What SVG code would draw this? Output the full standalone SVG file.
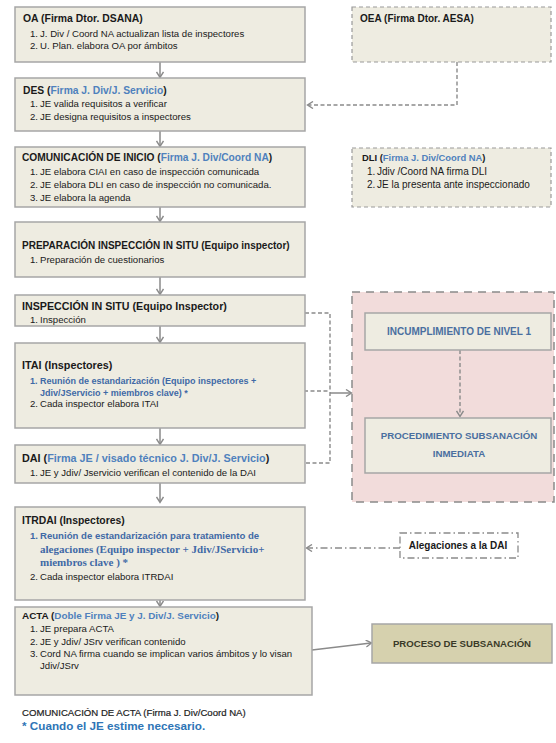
<svg xmlns="http://www.w3.org/2000/svg" width="556" height="743" viewBox="0 0 556 743">
<defs>
<marker id="ah" markerWidth="8" markerHeight="8" refX="6" refY="4" orient="auto" markerUnits="userSpaceOnUse">
<path d="M1,0.5 L6.5,4 L1,7.5" fill="none" stroke="#8a8a8a" stroke-width="1.4"/>
</marker>
<style>
text{font-family:"Liberation Sans",Arial,sans-serif;fill:#1a1a1a}
.box{fill:#eeece1;stroke:#a6a6a6;stroke-width:1.5}
.dbox{fill:#eeece1;stroke:#9a9a9a;stroke-width:1.2;stroke-dasharray:4,3}
.t{font-size:10.4px;font-weight:bold}
.i{font-size:9.6px}
.bl{fill:#4f81bd}
.bb{fill:#3f69a6;font-weight:bold;font-size:9px}
.c{text-anchor:middle}
.hl{fill:#4a6fa0}
.arr{fill:none;stroke:#8a8a8a;stroke-width:1.5}
.dash{fill:none;stroke:#8a8a8a;stroke-width:1.4;stroke-dasharray:4,2.5}
</style>
</defs>
<rect width="556" height="743" fill="#ffffff"/>

<g id="pink-area">
<rect x="352" y="292" width="202" height="210" fill="#f2dcdb" stroke="#8a8a8a" stroke-width="1.5" stroke-dasharray="8,6"/>
</g>

<g id="connectors">
<line class="arr" x1="160" y1="62" x2="160" y2="77" marker-end="url(#ah)"/>
<line class="arr" x1="160" y1="131" x2="160" y2="146" marker-end="url(#ah)"/>
<line class="arr" x1="160" y1="207" x2="160" y2="221" marker-end="url(#ah)"/>
<line class="arr" x1="160" y1="277" x2="160" y2="294" marker-end="url(#ah)"/>
<line class="arr" x1="160" y1="326" x2="160" y2="342" marker-end="url(#ah)"/>
<line class="arr" x1="160" y1="428" x2="160" y2="444" marker-end="url(#ah)"/>
<line class="arr" x1="160" y1="483" x2="160" y2="502" marker-end="url(#ah)"/>
<line class="arr" x1="160" y1="600" x2="160" y2="606" marker-end="url(#ah)"/>
<polyline class="dash" points="457,62 457,105 308,105" marker-end="url(#ah)"/>
<polyline class="dash" points="305,313 330,313 330,463 305,463"/>
<line class="dash" x1="304" y1="391" x2="330" y2="391"/>
<line class="arr" x1="330" y1="393" x2="351" y2="393" marker-end="url(#ah)"/>
<line class="dash" x1="460" y1="350" x2="460" y2="416" marker-end="url(#ah)"/>
<line fill="none" stroke="#8a8a8a" stroke-width="1.4" stroke-dasharray="7,3,1.5,3" x1="400" y1="548" x2="307" y2="548" marker-end="url(#ah)"/>
<line class="arr" x1="312" y1="650" x2="371" y2="643" marker-end="url(#ah)"/>
</g>

<g id="oa">
<rect class="box" x="15" y="7" width="290" height="55"/>
<text class="t" x="23" y="22">OA (Firma Dtor. DSANA)</text>
<text class="i" x="30" y="37">1.</text><text class="i" x="40" y="37">J. Div / Coord NA actualizan lista de inspectores</text>
<text class="i" x="30" y="49">2.</text><text class="i" x="40" y="49">U. Plan. elabora OA por ámbitos</text>
</g>

<g id="oea">
<rect class="dbox" x="352" y="7" width="199" height="55"/>
<text class="t" x="360" y="22" style="font-size:10px">OEA (Firma Dtor. AESA)</text>
</g>

<g id="des">
<rect class="box" x="15" y="78" width="290" height="53"/>
<text class="t" x="23" y="94" style="font-size:10.3px">DES (<tspan class="bl">Firma J. Div/J. Servicio</tspan>)</text>
<text class="i" x="30" y="107">1.</text><text class="i" x="40" y="107">JE valida requisitos a verificar</text>
<text class="i" x="30" y="120">2.</text><text class="i" x="40" y="120">JE designa requisitos a inspectores</text>
</g>

<g id="comunicacion-inicio">
<rect class="box" x="15" y="147" width="290" height="60"/>
<text class="t" x="22" y="161" style="font-size:10.2px">COMUNICACIÓN DE INICIO (<tspan class="bl">Firma J. Div/Coord NA</tspan>)</text>
<text class="i" x="30" y="175">1.</text><text class="i" x="40" y="175">JE elabora CIAI en caso de inspección comunicada</text>
<text class="i" x="30" y="188">2.</text><text class="i" x="40" y="188">JE elabora DLI en caso de inspección no comunicada.</text>
<text class="i" x="30" y="201">3.</text><text class="i" x="40" y="201">JE elabora la agenda</text>
</g>

<g id="dli">
<rect class="dbox" x="352" y="148" width="199" height="59"/>
<text class="t" x="362" y="161" style="font-size:9.4px">DLI (<tspan class="bl">Firma J. Div/Coord NA</tspan>)</text>
<text class="i" x="367" y="175" style="font-size:10px">1.</text><text class="i" x="377" y="175" style="font-size:10px">Jdiv /Coord NA firma DLI</text>
<text class="i" x="367" y="188" style="font-size:10px">2.</text><text class="i" x="377" y="188" style="font-size:10px">JE la presenta ante inspeccionado</text>
</g>

<g id="preparacion">
<rect class="box" x="15" y="222" width="290" height="55"/>
<text class="t" x="22" y="249" style="font-size:10px">PREPARACIÓN INSPECCIÓN IN SITU (Equipo inspector)</text>
<text class="i" x="30" y="263">1.</text><text class="i" x="40" y="263">Preparación de cuestionarios</text>
</g>

<g id="inspeccion">
<rect class="box" x="15" y="295" width="290" height="31"/>
<text class="t" x="22" y="310" style="font-size:10.7px">INSPECCIÓN IN SITU (Equipo Inspector)</text>
<text class="i" x="30" y="323">1.</text><text class="i" x="40" y="323">Inspección</text>
</g>

<g id="itai">
<rect class="box" x="15" y="343" width="290" height="85"/>
<text class="t" x="22" y="369" style="font-size:10.8px">ITAI (Inspectores)</text>
<text class="i bb" x="30" y="384">1.</text><text class="i bb" x="40" y="384">Reunión de estandarización (Equipo inspectores +</text>
<text class="i bb" x="40" y="396">Jdiv/JServicio + miembros clave) *</text>
<text class="i" x="30" y="407">2.</text><text class="i" x="40" y="407">Cada inspector elabora ITAI</text>
</g>

<g id="dai">
<rect class="box" x="15" y="445" width="290" height="38"/>
<text class="t" x="22" y="462" style="font-size:10.8px">DAI (<tspan class="bl">Firma JE / visado técnico J. Div/J. Servicio</tspan>)</text>
<text class="i" x="30" y="476">1.</text><text class="i" x="40" y="476">JE y Jdiv/ Jservicio verifican el contenido de la DAI</text>
</g>

<g id="itrdai">
<rect class="box" x="15" y="507" width="290" height="93"/>
<text class="t" x="22" y="524">ITRDAI (Inspectores)</text>
<text class="i bb" x="30" y="539" style="font-size:9.6px">1.</text><text class="i bb" x="40" y="539" style="font-size:9.6px">Reunión de estandarización para tratamiento de</text>
<text class="i bb" x="40" y="553" style="font-family:'Liberation Serif',serif;font-size:11px">alegaciones (Equipo inspector + Jdiv/JServicio+</text>
<text class="i bb" x="40" y="566" style="font-family:'Liberation Serif',serif;font-size:11px">miembros clave ) *</text>
<text class="i" x="30" y="580">2.</text><text class="i" x="40" y="580">Cada inspector elabora ITRDAI</text>
</g>

<g id="acta">
<rect class="box" x="15" y="607" width="297" height="88"/>
<text class="t" x="22" y="619" style="font-size:9.9px">ACTA (<tspan class="bl">Doble Firma JE y J. Div/J. Servicio</tspan>)</text>
<text class="i" x="30" y="632">1.</text><text class="i" x="40" y="632">JE prepara ACTA</text>
<text class="i" x="30" y="645">2.</text><text class="i" x="40" y="645">JE y Jdiv/ JSrv verifican contenido</text>
<text class="i" x="30" y="657">3.</text><text class="i" x="40" y="657">Cord NA firma cuando se implican varios ámbitos y lo visan</text>
<text class="i" x="40" y="669">Jdiv/JSrv</text>
</g>

<g id="incumplimiento">
<rect class="box" x="365" y="313" width="186" height="37"/>
<text class="t c hl" x="459" y="335" style="font-size:10px">INCUMPLIMIENTO DE NIVEL 1</text>
</g>

<g id="procedimiento">
<rect class="box" x="365" y="418" width="186" height="55"/>
<text class="t c hl" x="459" y="439" style="font-size:9.7px">PROCEDIMIENTO SUBSANACIÓN</text>
<text class="t c hl" x="459" y="457" style="font-size:9.7px">INMEDIATA</text>
</g>

<g id="alegaciones">
<rect x="400" y="533" width="118" height="25" fill="#ffffff" stroke="#8a8a8a" stroke-width="1.3" stroke-dasharray="7,3,1.5,3"/>
<text class="t c" x="458" y="549" style="font-size:10px">Alegaciones a la DAI</text>
</g>

<g id="proceso-subsanacion">
<rect x="372" y="624" width="180" height="39" fill="#d6d1ae" stroke="#a6a6a6" stroke-width="1.5"/>
<text class="t c" x="462" y="647" style="fill:#3a3a28;font-size:9.6px">PROCESO DE SUBSANACIÓN</text>
</g>

<g id="footer">
<text x="22" y="716" style="font-size:9.6px;fill:#222222;stroke:#222222;stroke-width:0.2">COMUNICACIÓN DE ACTA (Firma J. Div/Coord NA)</text>
<text x="22" y="730" style="font-size:11.7px;font-weight:bold;fill:#2e75b6">* Cuando el JE estime necesario.</text>
</g>
</svg>
